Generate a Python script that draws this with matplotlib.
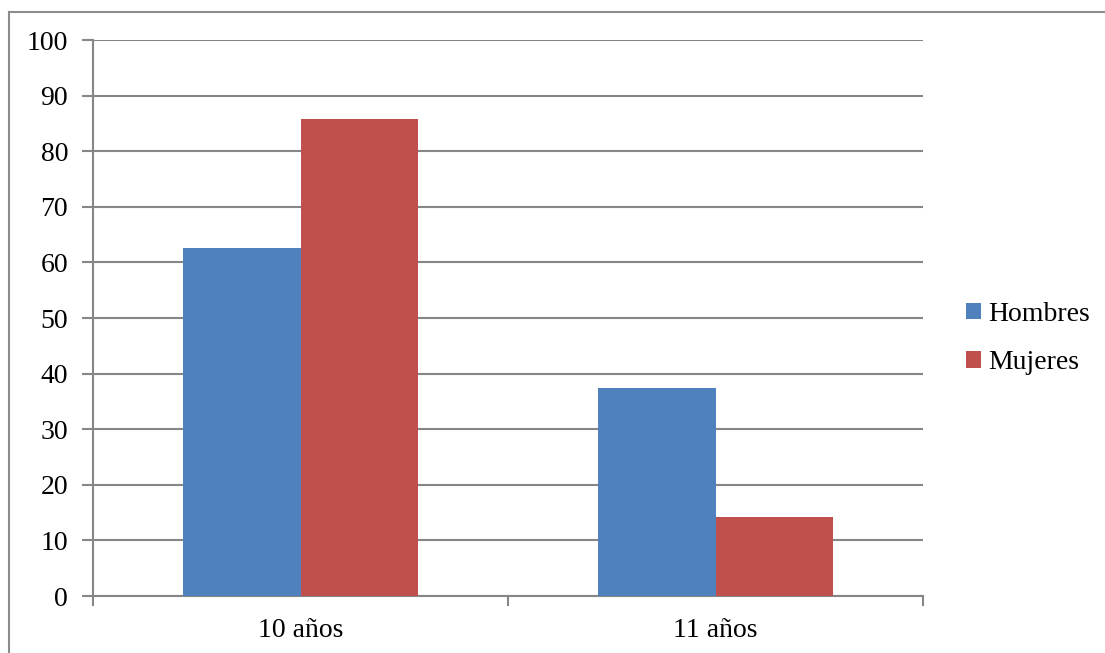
import matplotlib
matplotlib.use("Agg")
import matplotlib.pyplot as plt
from matplotlib.lines import Line2D
from matplotlib.patches import Patch
import numpy as np

categories = ["10 años", "11 años"]
series_names = ["Hombres", "Mujeres"]
hombres = [62.5, 37.5]
mujeres = [85.71, 14.29]
colors = ["#4F81BD", "#C0504D"]
yticks = list(range(0, 101, 10))

W, H = 1105, 653
fig = plt.figure(figsize=(W / 100, H / 100), dpi=100)
plt.rcParams['font.family'] = ['Liberation Serif', 'DejaVu Serif']
FS = 20

# outer frame (clipped at right/bottom)
fx, fy = 8.5 / W, 1 - 11.5 / H
fig.lines.append(Line2D([fx, fx], [-0.05, fy], transform=fig.transFigure,
                        color="#8C8C8C", linewidth=1.5))
fig.lines.append(Line2D([fx, 1.05], [fy, fy], transform=fig.transFigure,
                        color="#8C8C8C", linewidth=1.5))

ax = fig.add_axes([93 / W, 1 - 596 / H, (923 - 93) / W, (596 - 40) / H])
x = np.arange(len(categories))
bw = 0.284
ax.bar(x - bw / 2, hombres, bw, color=colors[0], label=series_names[0], zorder=3)
ax.bar(x + bw / 2, mujeres, bw, color=colors[1], label=series_names[1], zorder=3)

ax.set_xlim(-0.5, 1.5)
ax.set_ylim(0, 100)
ax.set_yticks(yticks)
ax.set_yticklabels([str(v) for v in yticks], fontsize=FS)
ax.yaxis.grid(True, color="#868686", linewidth=1.5, zorder=0)
ax.set_axisbelow(True)
ax.set_xticks([-0.5, 0.5, 1.5], minor=False)
ax.set_xticklabels([])
ax.set_xticks(x, minor=True)
ax.set_xticklabels(categories, minor=True, fontsize=FS)
ax.tick_params(axis='x', which='minor', length=0, pad=16)
ax.tick_params(axis='x', which='major', length=7, width=1.5, color="#868686", direction='out')
ax.tick_params(axis='y', length=8, width=1.5, color="#868686", pad=10)
for s in ['top', 'right']:
    ax.spines[s].set_visible(False)
for s in ['left', 'bottom']:
    ax.spines[s].set_color("#868686")
    ax.spines[s].set_linewidth(1.5)

handles = [Patch(facecolor=c, label=n) for c, n in zip(colors, series_names)]
fig.legend(handles=handles, loc='center left', bbox_to_anchor=(966 / W, 1 - 338.5 / H),
           frameon=False, fontsize=FS, handlelength=0.55, handleheight=0.55,
           handletextpad=0.25, labelspacing=0.85, borderpad=0, borderaxespad=0)

fig.savefig("out.png", dpi=100)
